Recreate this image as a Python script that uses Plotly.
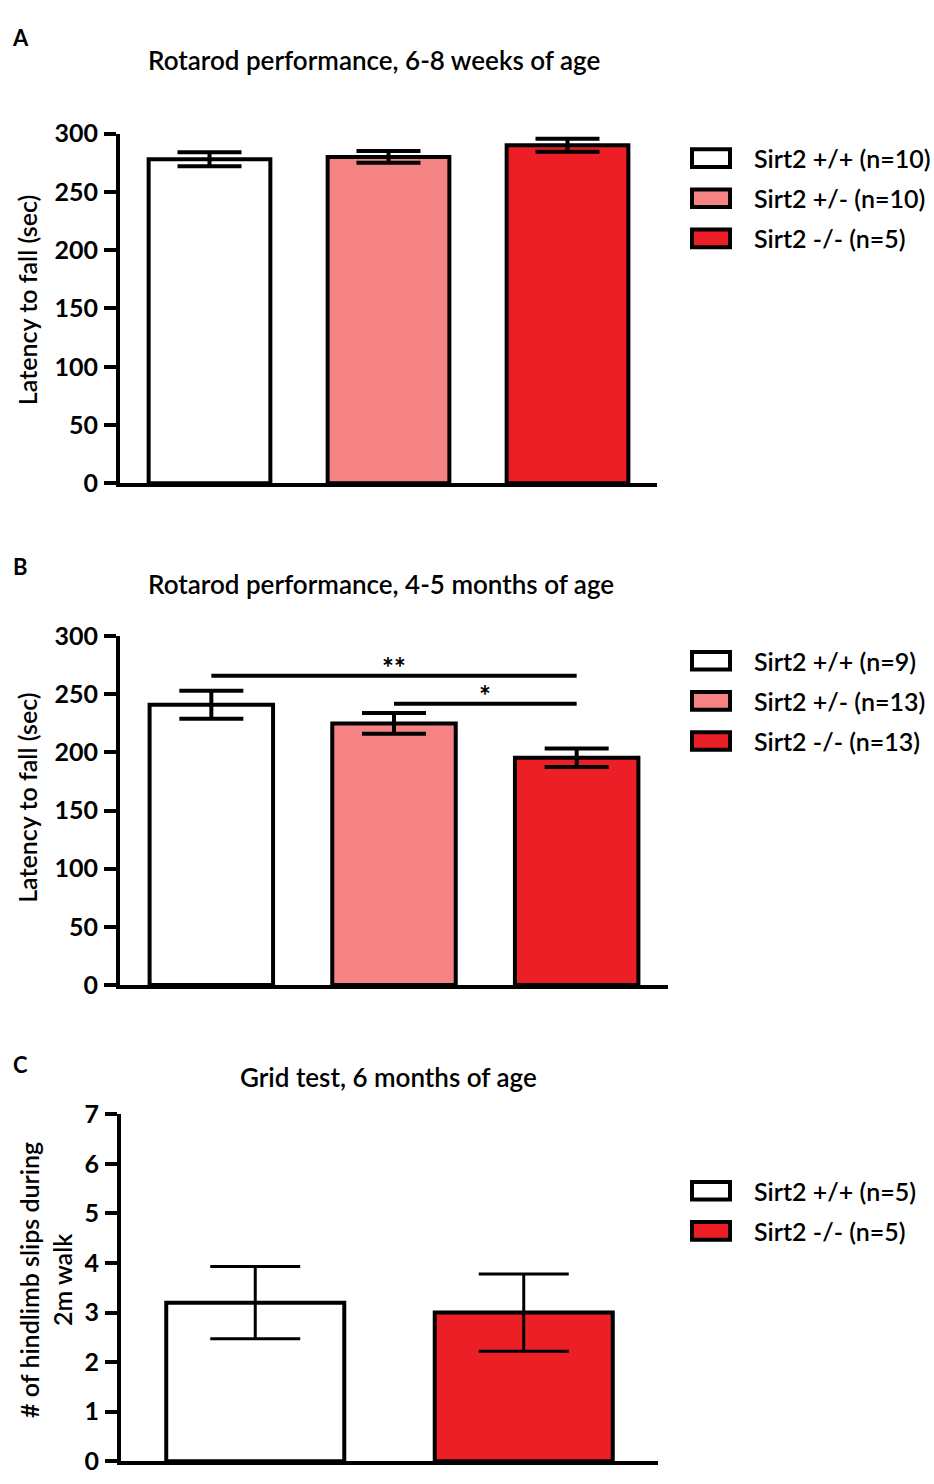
import plotly.graph_objects as go

W, H = 934, 1484
FONT = "Lato"

# ---------------- data ----------------
groups_a = ["Sirt2 +/+", "Sirt2 +/-", "Sirt2 -/-"]
means_a = [278, 280, 290]
sem_a = [6, 5, 5.5]
legend_a = ["Sirt2 +/+ (n=10)", "Sirt2 +/- (n=10)", "Sirt2 -/- (n=5)"]

groups_b = ["Sirt2 +/+", "Sirt2 +/-", "Sirt2 -/-"]
means_b = [241, 225, 195.5]
sem_b = [12, 9, 8]
legend_b = ["Sirt2 +/+ (n=9)", "Sirt2 +/- (n=13)", "Sirt2 -/- (n=13)"]
sig_from = ["Sirt2 +/+", "Sirt2 +/-"]
sig_to = ["Sirt2 -/-", "Sirt2 -/-"]
sig_level = [266, 242]
sig_text = ["**", "*"]

groups_c = ["Sirt2 +/+", "Sirt2 -/-"]
means_c = [3.2, 3.0]
sem_c = [0.73, 0.78]
legend_c = ["Sirt2 +/+ (n=5)", "Sirt2 -/- (n=5)"]

colors = {"Sirt2 +/+": "#FFFFFF", "Sirt2 +/-": "#F58384", "Sirt2 -/-": "#EC1F26"}

titles = ["Rotarod performance, 6-8 weeks of age",
          "Rotarod performance, 4-5 months of age",
          "Grid test, 6 months of age"]
ytitles = ["Latency to fall (sec)", "Latency to fall (sec)",
           "# of hindlimb slips during<br>2m walk"]
panel_letters = ["A", "B", "C"]


def px(x):
    return x / W


def py(y):
    return 1 - y / H


fig = go.Figure()


def add_bars(groups, means, sem, axis_suffix, width, cap, thick):
    fig.add_trace(go.Bar(
        x=groups, y=means,
        marker=dict(color=[colors[g] for g in groups],
                    line=dict(color="black", width=4)),
        width=width,
        error_y=dict(type="data", array=sem, color="black",
                     thickness=thick, width=cap),
        xaxis="x" + axis_suffix, yaxis="y" + axis_suffix,
        showlegend=False, hoverinfo="x+y",
    ))


add_bars(groups_a, means_a, sem_a, "", 0.68, 32, 4)
add_bars(groups_b, means_b, sem_b, "2", 0.676, 32, 4)
add_bars(groups_c, means_c, sem_c, "3", 0.663, 45, 3)

tickfont = dict(family=FONT, size=25, color="black", weight="bold")
xcommon = dict(showline=True, linewidth=4, linecolor="black", ticks="",
               showticklabels=False, showgrid=False, zeroline=False,
               fixedrange=True)
ycommon = dict(showline=True, linewidth=4, linecolor="black", ticks="outside",
               ticklen=12, tickwidth=4, tickcolor="black", tickfont=tickfont,
               showgrid=False, zeroline=False, ticklabelstandoff=1)

fig.update_layout(
    width=W, height=H,
    margin=dict(l=0, r=0, t=0, b=0),
    paper_bgcolor="white", plot_bgcolor="white",
    xaxis=dict(domain=[px(120), px(657)], anchor="y", range=[-0.5, 2.5],
               **xcommon),
    yaxis=dict(domain=[py(477), py(120)], anchor="x", range=[0, 300],
               tickvals=[0, 50, 100, 150, 200, 250, 300], **ycommon),
    xaxis2=dict(domain=[px(120), px(668)], anchor="y2", range=[-0.5, 2.5],
                **xcommon),
    yaxis2=dict(domain=[py(989), py(633)], anchor="x2", range=[0, 300],
                tickvals=[0, 50, 100, 150, 200, 250, 300], **ycommon),
    xaxis3=dict(domain=[px(121), px(658)], anchor="y3", range=[-0.5, 1.5],
                **xcommon),
    yaxis3=dict(domain=[py(1475), py(1121)], anchor="x3", range=[0, 7],
                tickvals=[0, 1, 2, 3, 4, 5, 6, 7], **ycommon),
)

annotations = []
shapes = []

# significance bars (panel B)
for f, t, lvl, txt in zip(sig_from, sig_to, sig_level, sig_text):
    shapes.append(dict(type="line", xref="x2", yref="y2",
                       x0=groups_b.index(f), x1=groups_b.index(t),
                       y0=lvl, y1=lvl, line=dict(color="black", width=4)))
    annotations.append(dict(xref="x2", yref="y2",
                            x=(groups_b.index(f) + groups_b.index(t)) / 2,
                            y=lvl, text=txt, showarrow=False,
                            yanchor="bottom", yshift=-10,
                            font=dict(family=FONT, size=28, color="black",
                                      weight="bold")))

# titles, letters, y titles
title_pos = [(374, 45), (381, 580), (388, 1083)]
letter_pos = [(20, 22), (20, 562), (20, 1070)]
ytitle_pos = [(27, 290), (27, 798), (46, 1290)]
for i in range(3):
    annotations.append(dict(xref="paper", yref="paper",
                            x=px(title_pos[i][0]), y=py(title_pos[i][1]),
                            text=titles[i], showarrow=False,
                            xanchor="center", yanchor="middle",
                            font=dict(family=FONT, size=26, color="black",
                                      weight=600)))
    annotations.append(dict(xref="paper", yref="paper",
                            x=px(letter_pos[i][0]), y=py(letter_pos[i][1]),
                            text=panel_letters[i], showarrow=False,
                            xanchor="center", yanchor="middle",
                            font=dict(family=FONT, size=22, color="black",
                                      weight="bold")))
    annotations.append(dict(xref="paper", yref="paper",
                            x=px(ytitle_pos[i][0]), y=py(ytitle_pos[i][1]),
                            text=ytitles[i], showarrow=False, textangle=-90,
                            xanchor="center", yanchor="middle",
                            font=dict(family=FONT, size=25, color="black",
                                      weight=600)))

# legends drawn as boxes + labels
legend_rows = [
    (legend_a, groups_a, [145, 186, 227]),
    (legend_b, groups_b, [658, 699, 740]),
    (legend_c, groups_c, [1199, 1240]),
]
for labels, grps, rows in legend_rows:
    for lab, g, yc in zip(labels, grps, rows):
        shapes.append(dict(type="rect", xref="paper", yref="paper",
                           x0=px(692), x1=px(730), y0=py(yc + 9), y1=py(yc - 9),
                           fillcolor=colors[g],
                           line=dict(color="black", width=4)))
        annotations.append(dict(xref="paper", yref="paper",
                                x=px(752), y=py(yc), text=lab,
                                showarrow=False, xanchor="left",
                                yanchor="middle",
                                font=dict(family=FONT, size=25, color="black",
                                          weight=600)))

fig.update_layout(annotations=annotations, shapes=shapes)
fig.write_html("out.html", config={"displayModeBar": False},
               post_script="document.body.style.margin='0';"
                           "document.body.style.overflow='hidden';")
